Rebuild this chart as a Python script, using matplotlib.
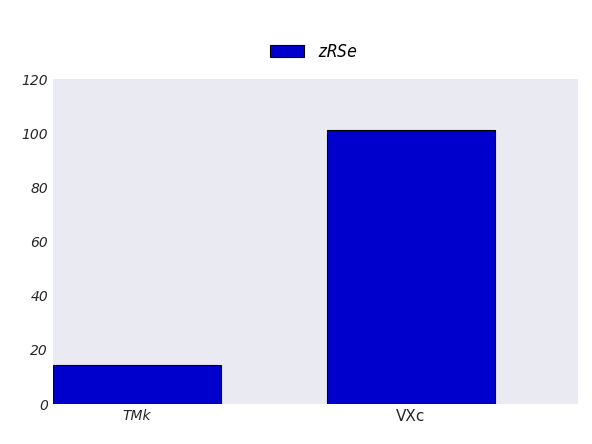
import matplotlib
matplotlib.use("Agg")
import matplotlib.pyplot as plt

categories = ["TMk", "VXc"]
values = [14.5, 101]
series_name = "zRSe"

fig = plt.figure(figsize=(5.92, 4.44), dpi=100)
ax = fig.add_axes([53 / 592, 40 / 444, 525 / 592, 325 / 444])
ax.set_facecolor("#EAEAF2")

x = list(range(len(categories)))
ax.bar(x, values, width=0.615, color="#0000CC", edgecolor="black", linewidth=0.8, label=series_name)

ax.set_xlim(-0.3075, 1.612)
ax.set_ylim(0, 120)
ax.set_yticks(range(0, 121, 20))
ax.set_xticks(x)
ax.set_xticklabels(categories)
xl = ax.get_xticklabels()
xl[0].set_fontstyle("italic")
xl[0].set_fontsize(10)
xl[1].set_fontsize(11)
for t in ax.get_yticklabels():
    t.set_fontstyle("italic")
    t.set_fontsize(10)
ax.tick_params(length=0, colors="#262626")
for s in ax.spines.values():
    s.set_visible(False)

leg = fig.legend(loc="center", bbox_to_anchor=(0.53, 52 / 444 * -1 + 1), frameon=False,
                 prop={"family": "DejaVu Sans Mono", "style": "italic", "size": 12})

fig.savefig("out.png", dpi=100)
